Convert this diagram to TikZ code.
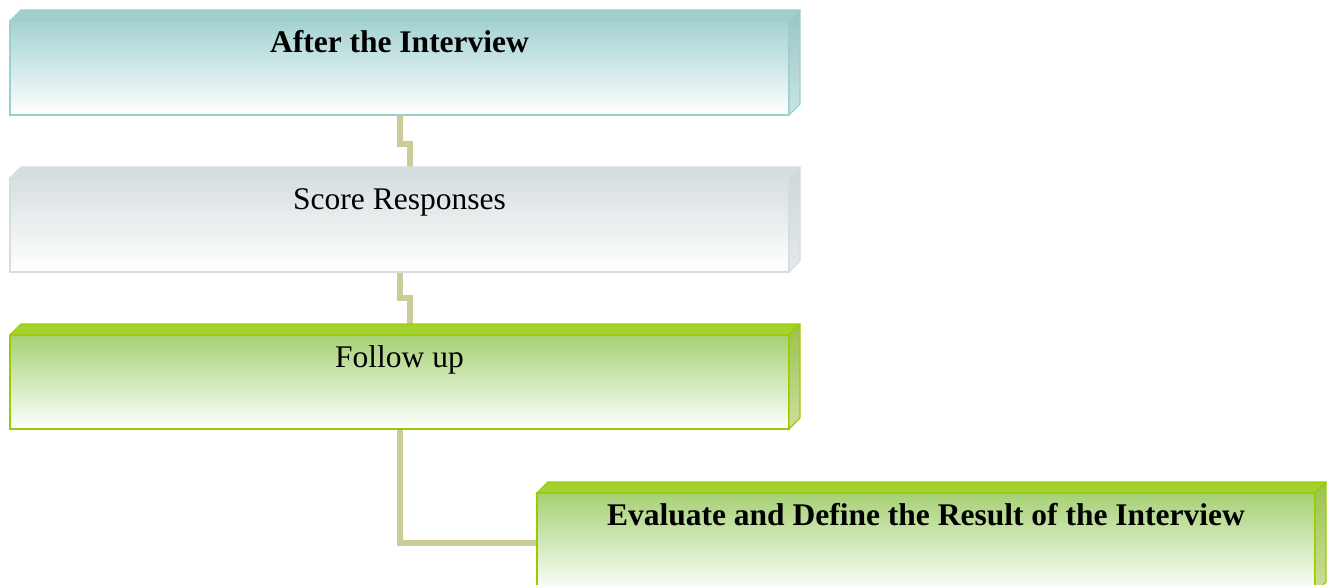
\documentclass[tikz,border=0pt]{standalone}
\usepackage{fontspec}
\setmainfont{Liberation Serif}
\usetikzlibrary{backgrounds}
\definecolor{tealF}{HTML}{A3D2D0}
\definecolor{tealT}{HTML}{A0CFCD}
\definecolor{tealS}{HTML}{96C6C4}
\definecolor{tealSb}{HTML}{CBE4E3}
\definecolor{tealB}{HTML}{9BD0CE}
\definecolor{grayF}{HTML}{D7DFE1}
\definecolor{grayT}{HTML}{D6DEE0}
\definecolor{grayS}{HTML}{CDD7D9}
\definecolor{graySb}{HTML}{E4E9EA}
\definecolor{grayB}{HTML}{D4DEE0}
\definecolor{greenF}{HTML}{A6D174}
\definecolor{greenT}{HTML}{A3D12E}
\definecolor{greenS}{HTML}{9BC24A}
\definecolor{greenSb}{HTML}{CEDFA0}
\definecolor{greenB}{HTML}{99CC00}
\definecolor{connC}{HTML}{CCCC99}
\tikzset{
  x=1pt, y=-1pt,
  front/.style={minimum width=779pt, minimum height=94pt, inner sep=0pt, outer sep=0pt,
    draw=#1B, line width=1.5pt, top color=#1F, middle color=#1F!30!white, bottom color=white,
    shading angle=0},
  lbl/.style={anchor=base, font=\fontsize{31.5}{36}\selectfont, inner sep=0pt},
  conn/.style={draw=connC, line width=6pt},
}
% #1 node, #2 colour prefix
\newcommand{\cubefaces}[2]{%
  \filldraw[fill=#2T, draw=#2B, line width=1.2pt, line join=round]
    (#1.north west) -- ++(11,-11) -- ([shift={(11,-11)}]#1.north east) -- (#1.north east) -- cycle;
  \shadedraw[top color=#2S, bottom color=#2Sb, draw=#2B, line width=1.2pt, line join=round]
    (#1.north east) -- ++(11,-11) -- ([shift={(11,-11)}]#1.south east) -- (#1.south east) -- cycle;
}
\begin{document}
\begin{tikzpicture}
\useasboundingbox (0,0) rectangle (1335,585);
\node[front=teal] (f1) at (399.5,68) {};
\node[front=gray] (f2) at (399.5,225) {};
\node[front=green] (f3) at (399.5,382) {};
\node[front=green, minimum width=778pt, minimum height=100pt] (f4) at (926,543) {};
\cubefaces{f1}{teal}
\cubefaces{f2}{gray}
\cubefaces{f3}{green}
\cubefaces{f4}{green}
\node[lbl] (t1) at (399.5,53) {\bfseries After the Interview};
\node[lbl] (t2) at (399.5,210) {Score Responses};
\node[lbl] (t3) at (399.5,367) {Follow up};
\node[lbl] (t4) at (926,525) {\bfseries Evaluate and Define the Result of the Interview};
\begin{scope}[on background layer]
  \draw[conn] (f1.south) -- ++(0,29) -- ++(10,0) -- ([xshift=10pt]f2.north);
  \draw[conn] (f2.south) -- ++(0,26) -- ++(10,0) -- ([xshift=10pt]f3.north);
  \draw[conn] (f3.south) |- (f4.west);
\end{scope}
\end{tikzpicture}
\end{document}
